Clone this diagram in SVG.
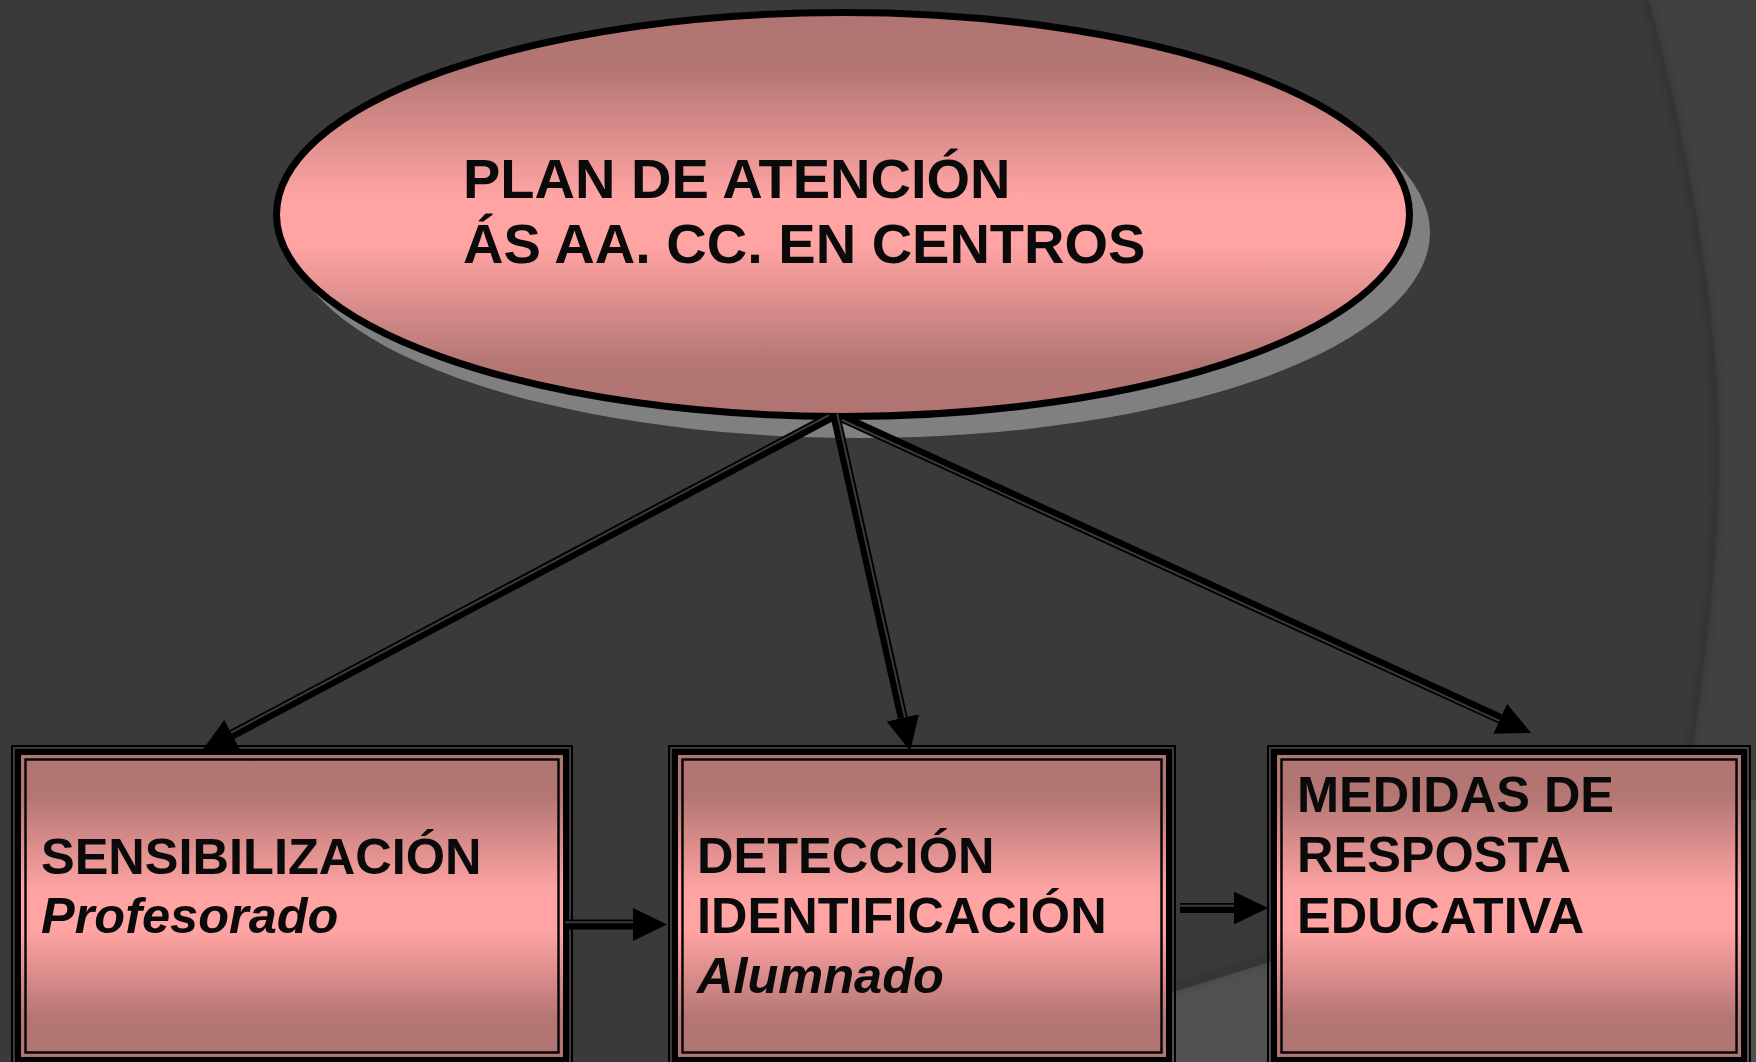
<svg xmlns="http://www.w3.org/2000/svg" width="1756" height="1062" viewBox="0 0 1756 1062">
  <defs>
    <linearGradient id="pink" x1="0" y1="0" x2="0" y2="1">
      <stop offset="0" stop-color="#B07472"/>
      <stop offset="0.14" stop-color="#B37673"/>
      <stop offset="0.45" stop-color="#FFA3A3"/>
      <stop offset="0.58" stop-color="#FFA3A3"/>
      <stop offset="0.87" stop-color="#B37673"/>
      <stop offset="1" stop-color="#B07472"/>
    </linearGradient>
    <filter id="blur" x="-10%" y="-10%" width="120%" height="120%">
      <feGaussianBlur stdDeviation="3"/>
    </filter>
    <marker id="ah" markerUnits="userSpaceOnUse" viewBox="0 -17 34 34" refX="0" refY="0" markerWidth="34" markerHeight="34" orient="auto">
      <path d="M0,-16.5 L34,0 L0,16.5 Z" fill="#000"/>
    </marker>
    <style>
      .txt { font-family: "Liberation Sans", Arial, sans-serif; font-weight: bold; fill: #0A0A0A; }
      .big { font-size: 56px; }
      .box { font-size: 50.5px; }
      .it { font-style: italic; }
      .b-out { fill: none; stroke: #000; stroke-width: 2; }
      .b-thick { fill: url(#pink); stroke: #000; stroke-width: 6; }
      .b-thin { fill: none; stroke: #000; stroke-width: 2.4; }
      .c-line { stroke: #000; stroke-width: 10; fill: none; }
      .c-gap { stroke: #3A3A3A; stroke-width: 2; fill: none; }
    </style>
  </defs>

  <!-- background -->
  <rect x="0" y="0" width="1756" height="1062" fill="#3A3A3A"/>
  <path d="M1648,0 C1680,110 1719,300 1719,450 C1719,560 1705,660 1688,780 L1670,1062 L1756,1062 L1756,0 Z" fill="#414141"/>
  <path d="M1646,0 C1678,110 1717,300 1717,450 C1717,560 1703,660 1686,780" fill="none" stroke="#2C2C2C" stroke-width="5" opacity="0.6" filter="url(#blur)"/>
  <path d="M1165,1062 L1172,992 C1330,945 1520,880 1640,800 L1756,800 L1756,1062 Z" fill="#505050"/>
  <path d="M1172,988 C1330,941 1520,876 1640,796" fill="none" stroke="#2C2C2C" stroke-width="6" opacity="0.5" filter="url(#blur)"/>

  <!-- central ellipse -->
  <g id="plan">
    <ellipse cx="860" cy="232.5" rx="570" ry="205.5" fill="#808080"/>
    <ellipse cx="843" cy="214.5" rx="566.5" ry="202" fill="url(#pink)" stroke="#000" stroke-width="7"/>
    <text class="txt big" x="463" y="198">PLAN DE ATENCIÓN</text>
    <text class="txt big" x="463" y="263">ÁS AA. CC. EN CENTROS</text>
  </g>

  <!-- boxes -->
  <g id="sensibilizacion">
    <rect class="b-out" x="12" y="746" width="560" height="320"/>
    <rect class="b-thick" x="18" y="752" width="548" height="308"/>
    <rect class="b-thin" x="25.5" y="759.5" width="533" height="293"/>
    <text class="txt box" x="41" y="874">SENSIBILIZACIÓN</text>
    <text class="txt box it" x="41" y="933">Profesorado</text>
  </g>

  <g id="deteccion">
    <rect class="b-out" x="669" y="746" width="506" height="320"/>
    <rect class="b-thick" x="675" y="752" width="494" height="308"/>
    <rect class="b-thin" x="682.5" y="759.5" width="479" height="293"/>
    <text class="txt box" x="697" y="873">DETECCIÓN</text>
    <text class="txt box" x="697" y="933">IDENTIFICACIÓN</text>
    <text class="txt box it" x="697" y="993">Alumnado</text>
  </g>

  <g id="medidas">
    <rect class="b-out" x="1268" y="746" width="482" height="320"/>
    <rect class="b-thick" x="1274" y="752" width="470" height="308"/>
    <rect class="b-thin" x="1281.5" y="759.5" width="455" height="293"/>
    <text class="txt box" x="1297" y="812">MEDIDAS DE</text>
    <text class="txt box" x="1297" y="872">RESPOSTA</text>
    <text class="txt box" x="1297" y="933">EDUCATIVA</text>
  </g>

  <!-- connectors -->
  <g id="connectors">
    <line class="c-line" x1="830" y1="417" x2="232.1" y2="734.5" marker-end="url(#ah)"/>
    <line class="c-gap" x1="829" y1="415.1" x2="231.1" y2="732.6"/>

    <line class="c-line" x1="835" y1="414" x2="902.8" y2="717.8" marker-end="url(#ah)"/>
    <line class="c-gap" x1="837.1" y1="413.5" x2="904.9" y2="717.3"/>

    <line class="c-line" x1="843" y1="418" x2="1500.1" y2="718.8" marker-end="url(#ah)"/>
    <line class="c-gap" x1="842.1" y1="420" x2="1499.2" y2="720.8"/>

    <line class="c-line" x1="565" y1="924.5" x2="633" y2="924.5" marker-end="url(#ah)"/>
    <line class="c-gap" x1="565" y1="922.3" x2="633" y2="922.3"/>

    <line class="c-line" x1="1180" y1="908" x2="1234" y2="908" marker-end="url(#ah)"/>
    <line class="c-gap" x1="1180" y1="905.8" x2="1234" y2="905.8"/>
  </g>
</svg>
